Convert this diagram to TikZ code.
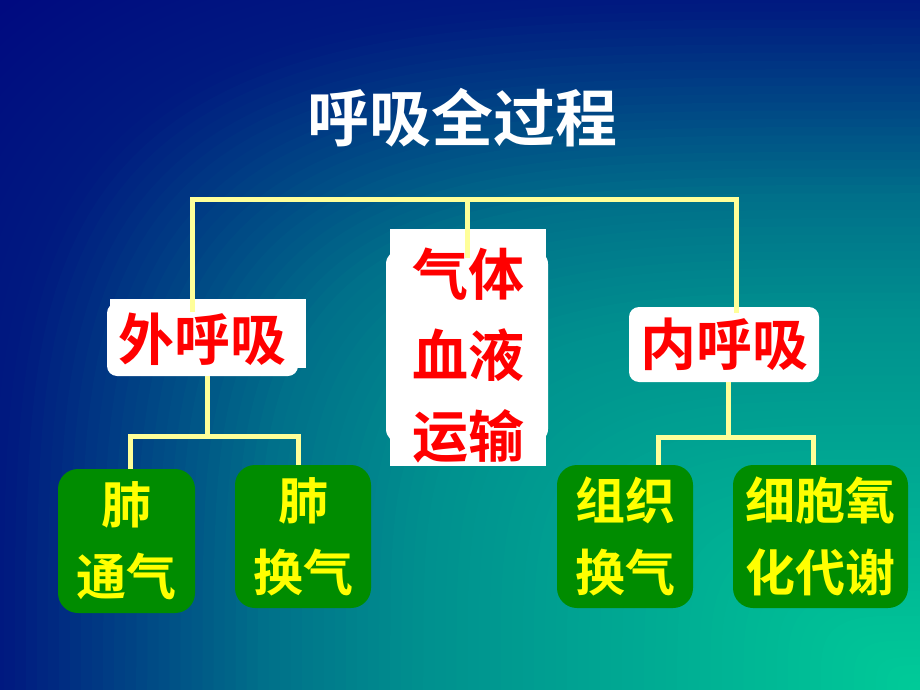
\documentclass[tikz,border=0pt]{standalone}
\usepackage{fontspec}
\newfontfamily\cjk{Noto Sans CJK SC}[BoldFont={Noto Sans CJK SC Bold}]
\definecolor{lineY}{HTML}{FFFF99}
\definecolor{boxG}{RGB}{0,140,0}
\definecolor{txtR}{RGB}{255,0,0}
\definecolor{txtY}{RGB}{255,255,0}
\begin{document}
\begin{tikzpicture}[x=1pt,y=-1pt,
  conn/.style={draw=lineY, line width=5pt, line join=miter},
  wbox/.style={fill=white, rounded corners=10pt, inner sep=0pt},
  gbox/.style={fill=boxG, rounded corners=20pt, inner sep=0pt, align=center,
    text=txtY, font=\cjk\bfseries\fontsize{50}{72}\selectfont},
  redtxt/.style={text=txtR, align=center, font=\cjk\bfseries\fontsize{56}{81}\selectfont},
  titletxt/.style={text=white, font=\cjk\bfseries\fontsize{62}{70}\selectfont}]
\useasboundingbox (0,0) rectangle (920,690);
% background: "from corner" gradient (bottom-right corner)
\begin{scope}
  \clip (0,0) rectangle (920,690);
  \fill[fill={rgb,255:red,0;green,10;blue,128}] (0,0) rectangle (920,690);
  \foreach \i in {100,...,1}{
    \pgfmathsetmacro{\r}{\i/100*1.2}
    \pgfmathtruncatemacro{\gg}{\r<0.55 ? 204-109.1*\r : (\r<0.72 ? 144-188.2*(\r-0.55) : (\r<1 ? 112-307.1*(\r-0.72) : max(10,26-84*(\r-1))))}
    \pgfmathtruncatemacro{\bb}{\r<0.55 ? 153-18.2*\r : (\r<0.72 ? 143-29.4*(\r-0.55) : (\r<1 ? 138-35.7*(\r-0.72) : 128))}
    \definecolor{ringc}{RGB}{0,\gg,\bb}
    \fill[ringc] (920,690) -- plot[variable=\t, domain=0:90, samples=40]
      ({920-\r*920*sqrt(abs(cos(\t)))}, {690-\r*690*sqrt(abs(sin(\t)))}) -- cycle;
  }
\end{scope}
% title
\node[titletxt] (title) at (462,118) {呼吸全过程};
% white boxes
\fill[white] (110,299) rectangle (306,368);
\node[wbox, redtxt, minimum width=191pt, minimum height=73pt] (wai) at (202.5,339.5) {外呼吸};
\fill[white, rounded corners=14pt] (386,250) rectangle (548,443);
\node[fill=white, inner sep=0pt, minimum width=156pt, minimum height=237pt] (midbox) at (468,347.5) {};
\node[redtxt] (mid) at (468,356) {气体\\血液\\运输};
\node[wbox, redtxt, minimum width=190pt, minimum height=75pt] (nei) at (724,344.5) {内呼吸};
% green boxes
\node[gbox, minimum width=137pt, minimum height=144pt] (g1) at (126.5,541) {肺\\通气};
\node[gbox, minimum width=136pt, minimum height=143pt] (g2) at (303,536.5) {肺\\换气};
\node[gbox, minimum width=136pt, minimum height=143pt] (g3) at (625,536.5) {组织\\换气};
\node[gbox, minimum width=175pt, minimum height=143pt] (g4) at (820.5,536.5) {细胞氧\\化代谢};
% junction coordinates
\coordinate (topL) at (192,199);
\coordinate (topC) at (467,199);
\coordinate (topR) at (736,199);
\coordinate (waiT) at ([yshift=-9pt]wai.north);
\coordinate (neiT) at ([yshift=-6pt]nei.north);
\coordinate (midT) at ([yshift=-29pt]midbox.north);
\coordinate (junL) at (207,436);
\coordinate (dL1) at (130,436);
\coordinate (dL2) at (298,436);
\coordinate (junR) at (728,437);
\coordinate (dR1) at (658,437);
\coordinate (dR2) at (813,437);
% connectors
\draw[conn] (waiT -| topL) -- (topL) -- (topR) -- (neiT -| topR);
\draw[conn] (topC) -- (midT -| topC);
\draw[conn] (wai.south -| junL) -- (junL);
\draw[conn] (g1.north -| dL1) -- (dL1) -- (dL2) -- (g2.north -| dL2);
\draw[conn] (nei.south -| junR) -- (junR);
\draw[conn] (g3.north -| dR1) -- (dR1) -- (dR2) -- (g4.north -| dR2);
\end{tikzpicture}
\end{document}
